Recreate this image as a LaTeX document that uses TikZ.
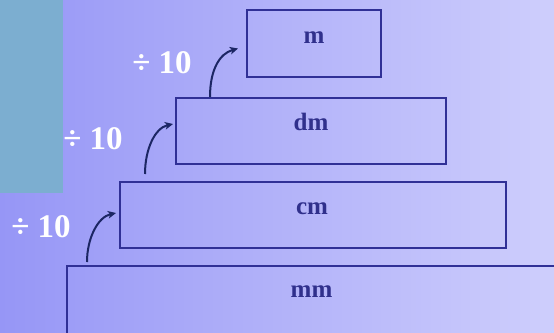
\documentclass[tikz,border=0pt]{standalone}
\usepackage{fontspec}
\setmainfont{Liberation Serif}
\usetikzlibrary{arrows.meta,calc}
\definecolor{bgL}{RGB}{150,150,246}
\definecolor{bgR}{RGB}{206,206,252}
\definecolor{teal}{RGB}{124,174,208}
\definecolor{boxline}{RGB}{48,48,150}
\definecolor{unittxt}{RGB}{48,48,140}
\definecolor{arrowcol}{RGB}{28,38,100}
\tikzset{
  unitbox/.style={draw=boxline, line width=2pt, minimum width=#1, inner sep=0pt},
  unitlabel/.style={text=unittxt, font=\bfseries\fontsize{25}{25}\selectfont, inner sep=0pt},
  divlabel/.style={text=white, font=\bfseries\fontsize{33}{33}\selectfont, inner sep=0pt},
  curvearrow/.style={draw=arrowcol, line width=2pt, -{Stealth[length=8pt,width=7.5pt,inset=2pt]}}
}
\begin{document}
\begin{tikzpicture}[x=1pt,y=-1pt]
\useasboundingbox (0,0) rectangle (554,332);
\clip (0,0) rectangle (554,332);
\shade[left color=bgL, right color=bgR] (0,0) rectangle (554,332);
\fill[teal] (0,0) rectangle (63,193);

\node[unitbox=134pt, minimum height=67pt] (m) at (314,43.5) {};
\node[unitbox=270pt, minimum height=66pt] (dm) at (311,131) {};
\node[unitbox=386pt, minimum height=66pt] (cm) at (313,215) {};
\node[unitbox=503pt, minimum height=74pt] (mm) at (318.5,303) {};

\node[unitlabel, anchor=base] (mt) at ($(m.north)+(0,34)$) {m};
\node[unitlabel, anchor=base] (dmt) at ($(dm.north)+(0,33)$) {dm};
\node[unitlabel, anchor=base] (cmt) at ($(cm.north)+(-1,33)$) {cm};
\node[unitlabel, anchor=base] (mmt) at ($(mm.north)+(-7,32)$) {mm};

\node[divlabel, anchor=base] (d1) at (162,73) {÷ 10};
\node[divlabel, anchor=base] (d2) at (93,149) {÷ 10};
\node[divlabel, anchor=base] (d3) at (41,237) {÷ 10};

\coordinate (a1s) at ($(dm.north west)+(35,0)$);
\coordinate (a1e) at ($(m.west)+(-8,5)$);
\coordinate (a2s) at ($(cm.north west)+(26,-7)$);
\coordinate (a2e) at ($(dm.west)+(-2,-7)$);
\coordinate (a3s) at ($(mm.north west)+(21,-3)$);
\coordinate (a3e) at ($(cm.west)+(-3,-2)$);

\draw[curvearrow] (a1s) .. controls ($(a1s)+(0,-28)$) and ($(a1e)+(-18,5)$) .. (a1e);
\draw[curvearrow] (a2s) .. controls ($(a2s)+(0,-25)$) and ($(a2e)+(-18,4)$) .. (a2e);
\draw[curvearrow] (a3s) .. controls ($(a3s)+(0,-24)$) and ($(a3e)+(-18,4)$) .. (a3e);
\end{tikzpicture}
\end{document}
